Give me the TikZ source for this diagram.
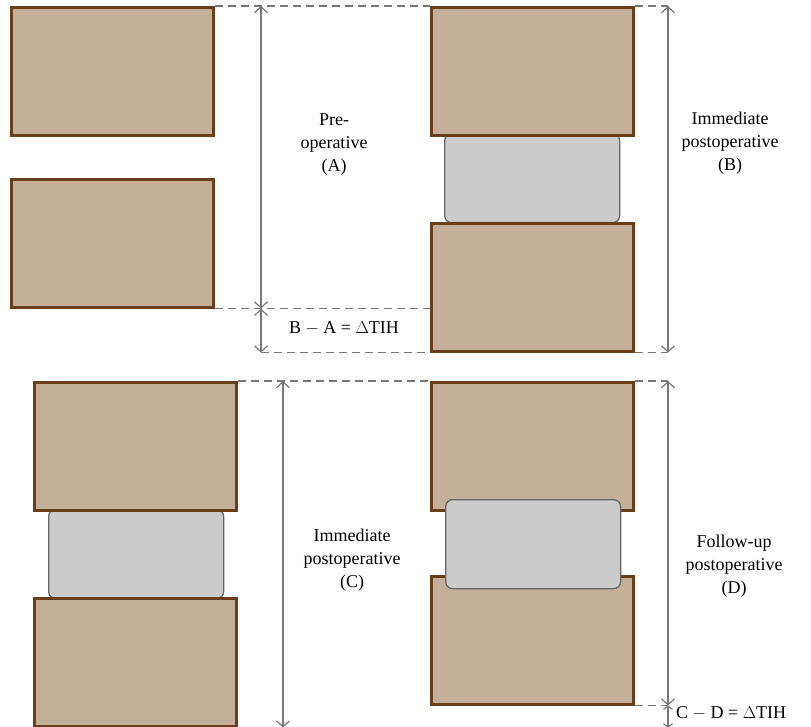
\documentclass[tikz,border=0pt]{standalone}
\usepackage{fontspec}
\setmainfont{Liberation Serif}
\usetikzlibrary{arrows.meta}
\definecolor{bone}{HTML}{C4B098}
\definecolor{bonedge}{HTML}{6B3E1A}
\definecolor{discfill}{HTML}{CBCBCB}
\definecolor{discedge}{HTML}{666666}
\definecolor{dimgray}{HTML}{777777}
\begin{document}
\begin{tikzpicture}[x=1pt,y=-1pt,
  vert/.style={draw=bonedge, fill=bone, line width=2.6pt, minimum width=202pt, minimum height=128pt, inner sep=0pt, anchor=north west},
  disc/.style={draw=discedge, fill=discfill, line width=1.3pt, rounded corners=7pt, minimum width=175pt, minimum height=89pt, inner sep=0pt, anchor=north west},
  guide/.style={draw=dimgray, dash pattern=on 8pt off 5pt, line width=1.2pt},
  dim/.style={draw=dimgray, line width=1.2pt, {Straight Barb[length=6pt,width=13pt]}-{Straight Barb[length=6pt,width=13pt]}},
  lbl/.style={font=\fontsize{18}{23}\selectfont, align=center, inner sep=0pt}]
\useasboundingbox (0,0) rectangle (811,727);
% A
\node[vert] (a1) at (10,6) {};
\node[vert] (a2) at (10,178) {};
% B
\node[disc] (bd) at (444,133) {};
\node[vert] (b1) at (430,6) {};
\node[vert] (b2) at (430,222) {};
% C
\node[disc] (cd) at (48,509) {};
\node[vert] (c1) at (33,381) {};
\node[vert] (c2) at (33,597) {};
% D
\node[vert] (d1) at (430,381) {};
\node[vert] (d2) at (430,575) {};
\node[disc] (dd) at (445,499) {};
% guide coordinates
\coordinate (gA1) at (261,6);
\coordinate (gA2) at (gA1 |- a2.south);
\coordinate (gA3) at (gA1 |- b2.south);
\coordinate (gB1) at (668,6);
\coordinate (gB2) at (gB1 |- b2.south);
\coordinate (gC1) at (283,381);
\coordinate (gC2) at (gC1 |- c2.south);
\coordinate (gD1) at (668,381);
\coordinate (gD2) at (gD1 |- d2.south);
\coordinate (gD3) at (gD1 |- c2.south);
% dashed guides
\draw[guide] (a1.north east) -- (b1.north west);
\draw[guide] (a2.south east) -- (b2.west |- a2.south east);
\draw[guide] (gA3) -- (b2.south west);
\draw[guide] (b1.north east) -- (gB1);
\draw[guide] (b2.south east) -- (gB2);
\draw[guide] (c1.north east) -- (d1.north west);
\draw[guide] (c2.south east) -- (gD3);
\draw[guide] (d1.north east) -- (gD1);
\draw[guide] (d2.south east) -- (gD2);
% dimension arrows
\draw[dim] (gA1) -- (gA2);
\draw[dim] (gA2) -- (gA3);
\draw[dim] (gB1) -- (gB2);
\draw[dim] (gC1) -- (gC2);
\draw[dim] (gD1) -- (gD2);
\draw[draw=dimgray, line width=1.2pt, {Straight Barb[length=3pt,width=9pt]}-{Straight Barb[length=3pt,width=9pt]}] (gD2) -- (gD3);
% labels
\node[lbl] (tA) at (334,145) {Pre-\\operative\\(A)};
\node[lbl] (tB) at (730,143) {Immediate\\postoperative\\(B)};
\node[lbl] (tBA) at (344,328) {B $-$ A = $\Delta$TIH};
\node[lbl] (tC) at (352,560) {Immediate\\postoperative\\(C)};
\node[lbl] (tD) at (734,566) {Follow-up\\postoperative\\(D)};
\node[lbl, anchor=west] (tCD) at (676,713) {C $-$ D = $\Delta$TIH};
\end{tikzpicture}
\end{document}
